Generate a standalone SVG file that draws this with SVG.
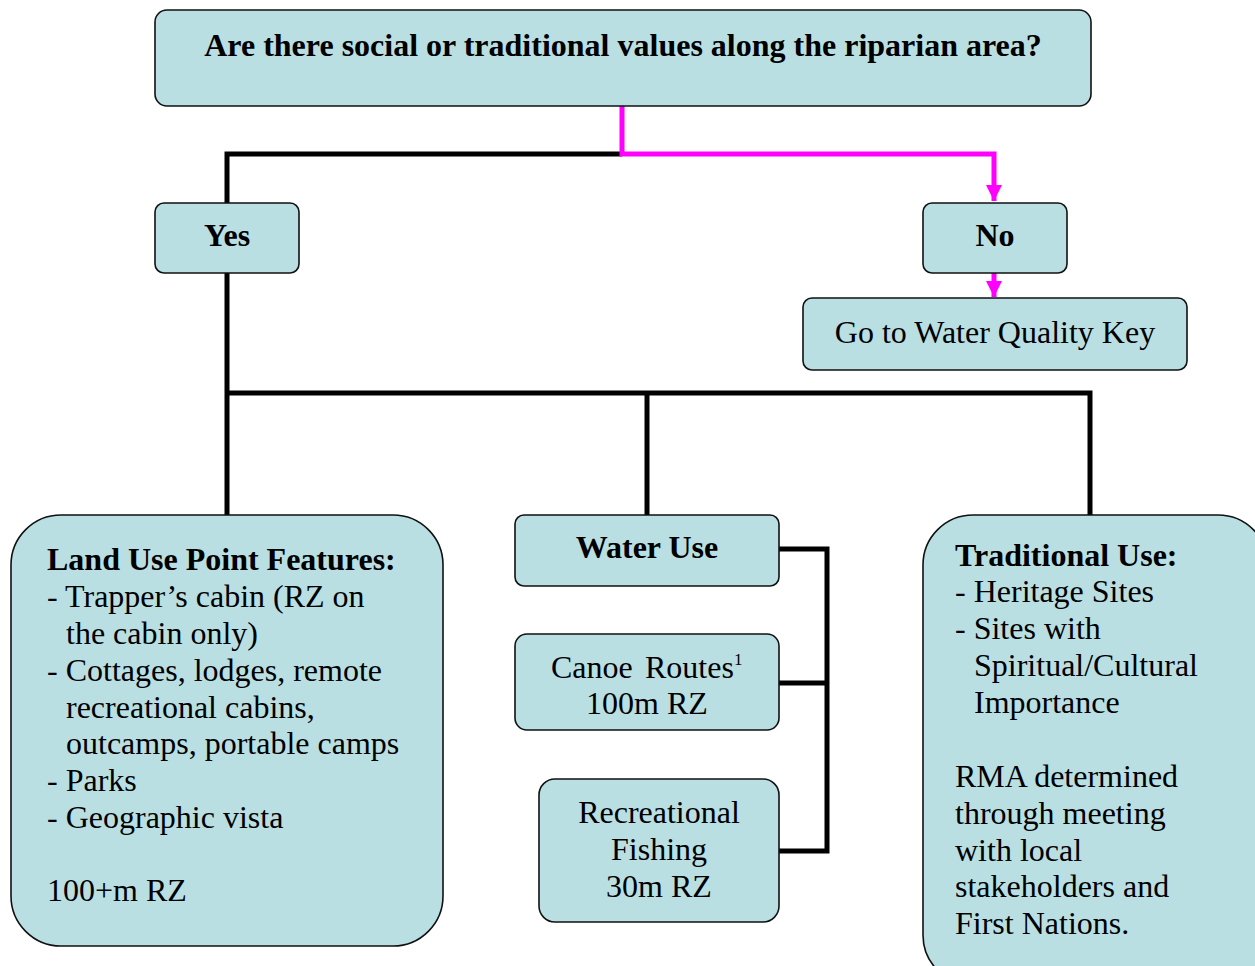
<svg xmlns="http://www.w3.org/2000/svg" width="1255" height="966" viewBox="0 0 1255 966">
  <style>
    .box { fill: #b9dfe3; stroke: #111; stroke-width: 1.6; }
    .t { font-family: "Liberation Serif", "Times New Roman", serif; font-size: 32px; fill: #000; }
    .b { font-weight: bold; }
    .c { text-anchor: middle; }
    .k { fill: none; stroke: #000; stroke-width: 5; }
    .m { fill: none; stroke: #ff00ff; stroke-width: 5; }
  </style>
  <defs>
    <marker id="arrM" viewBox="0 0 10 10" refX="10" refY="5" markerWidth="3.6" markerHeight="3.2" orient="auto" markerUnits="strokeWidth">
      <path d="M0,0 L10,5 L0,10 Z" fill="#ff00ff"/>
    </marker>
  </defs>

  <rect width="1255" height="966" fill="#fff"/>

  <!-- connectors -->
  <g id="connectors">
    <polyline class="k" points="622,154 227,154 227,203"/>
    <polyline class="m" points="622,106 622,154 994,154 994,201" marker-end="url(#arrM)"/>
    <polyline class="m" points="994,273 994,297" marker-end="url(#arrM)"/>
    <line class="k" x1="227" y1="273" x2="227" y2="515"/>
    <polyline class="k" points="227,393 1090,393 1090,515"/>
    <line class="k" x1="647" y1="393" x2="647" y2="515"/>
    <polyline class="k" points="779,549 827,549 827,851 779,851"/>
    <line class="k" x1="779" y1="683" x2="827" y2="683"/>
  </g>

  <g id="question">
    <rect class="box" x="155" y="10" width="936" height="96" rx="12"/>
    <text class="t b c" x="623" y="56">Are there social or traditional values along the riparian area?</text>
  </g>

  <g id="yes">
    <rect class="box" x="155" y="203" width="144" height="70" rx="9"/>
    <text class="t b c" x="227" y="246">Yes</text>
  </g>

  <g id="no">
    <rect class="box" x="923" y="203" width="144" height="70" rx="9"/>
    <text class="t b c" x="995" y="246">No</text>
  </g>

  <g id="water-quality">
    <rect class="box" x="803" y="298" width="384" height="72" rx="9"/>
    <text class="t c" x="995" y="343">Go to Water Quality Key</text>
  </g>

  <g id="land-use">
    <rect class="box" x="11" y="515" width="432" height="431" rx="50"/>
    <text class="t" x="47">
      <tspan class="b" x="47" y="570">Land Use Point Features:</tspan>
      <tspan x="47" y="607">- Trapper’s cabin (RZ on</tspan>
      <tspan x="66" y="644">the cabin only)</tspan>
      <tspan x="47" y="681">- Cottages, lodges, remote</tspan>
      <tspan x="66" y="718">recreational cabins,</tspan>
      <tspan x="66" y="754">outcamps, portable camps</tspan>
      <tspan x="47" y="791">- Parks</tspan>
      <tspan x="47" y="828">- Geographic vista</tspan>
      <tspan x="47" y="901">100+m RZ</tspan>
    </text>
  </g>

  <g id="water-use">
    <rect class="box" x="515" y="515" width="264" height="71" rx="9"/>
    <text class="t b c" x="647" y="558">Water Use</text>
  </g>

  <g id="canoe">
    <rect class="box" x="515" y="634" width="264" height="96" rx="12"/>
    <text class="t" x="551" y="678">Canoe<tspan x="645">Routes</tspan><tspan dy="-13" style="font-size:17px">1</tspan></text>
    <text class="t c" x="647" y="714">100m RZ</text>
  </g>

  <g id="fishing">
    <rect class="box" x="539" y="779" width="240" height="143" rx="16"/>
    <text class="t c" x="659" y="823">Recreational</text>
    <text class="t c" x="659" y="860">Fishing</text>
    <text class="t c" x="659" y="897">30m RZ</text>
  </g>

  <g id="traditional">
    <rect class="box" x="923" y="515" width="345" height="470" rx="50"/>
    <text class="t" x="955">
      <tspan class="b" x="955" y="566">Traditional Use:</tspan>
      <tspan x="955" y="602">- Heritage Sites</tspan>
      <tspan x="955" y="639">- Sites with</tspan>
      <tspan x="974" y="676">Spiritual/Cultural</tspan>
      <tspan x="974" y="713">Importance</tspan>
      <tspan x="955" y="787">RMA determined</tspan>
      <tspan x="955" y="824">through meeting</tspan>
      <tspan x="955" y="861">with local</tspan>
      <tspan x="955" y="897">stakeholders and</tspan>
      <tspan x="955" y="934">First Nations.</tspan>
    </text>
  </g>
</svg>
